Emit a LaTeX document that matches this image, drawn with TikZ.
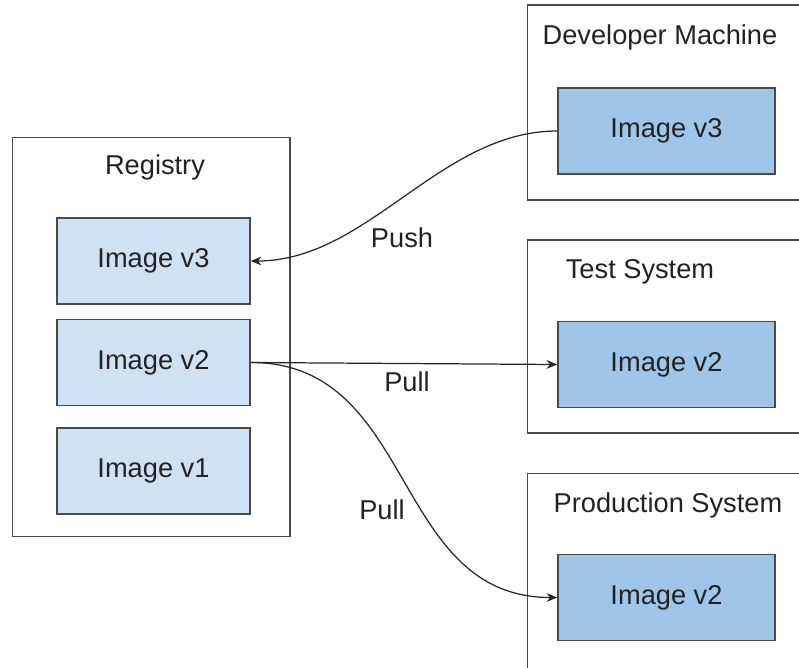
\documentclass[tikz,border=0pt]{standalone}
\usepackage{fontspec}
\setmainfont{Liberation Sans}
\usetikzlibrary{arrows.meta}

\definecolor{imgLight}{HTML}{CFE2F3}
\definecolor{imgDark}{HTML}{9FC5E8}
\definecolor{boxLine}{HTML}{4A4A4A}
\definecolor{txtCol}{HTML}{222222}

\tikzset{
    host/.style={draw=boxLine, line width=0.6pt, minimum width=#1, inner sep=0pt},
    regimg/.style={draw=boxLine, line width=1pt, fill=imgLight, minimum width=3.86cm, minimum height=1.72cm, text=txtCol},
    hostimg/.style={draw=boxLine, line width=1pt, fill=imgDark, minimum width=4.34cm, minimum height=1.72cm, text=txtCol},
    title/.style={text=txtCol},
    flow/.style={-{Stealth[length=6pt,width=5pt]}, line width=0.7pt, draw=black!85},
}

\begin{document}
\begin{tikzpicture}[x=0.02cm, y=-0.02cm, font=\fontsize{15.5}{18}\selectfont]

% Picture area (same size as the reference)
\useasboundingbox (0,0) rectangle (799,667);
\clip (0,0) rectangle (799,667);

% Registry with its images
\node[host=5.56cm, minimum height=8cm] (registry) at (151,337) {};
\node[title] (registryLabel) at (155,167) {Registry};
\node[regimg] (regV3) at (153.5,261) {Image v3};
\node[regimg] (regV2) at (153.5,362.5) {Image v2};
\node[regimg] (regV1) at (153.5,471) {Image v1};

% Machines on the right (cut off by the picture edge)
\node[host=5.66cm, minimum height=3.9cm] (devMachine) at (668.5,102.5) {};
\node[title] (devLabel) at (660,37) {Developer Machine};
\node[hostimg] (devV3) at (666.5,131) {Image v3};

\node[host=5.66cm, minimum height=3.86cm] (testSystem) at (668.5,336.5) {};
\node[title] (testLabel) at (640,272) {Test System};
\node[hostimg] (testV2) at (666.5,364.5) {Image v2};

\node[host=5.66cm, minimum height=4.14cm] (prodSystem) at (668.5,576.5) {};
\node[title] (prodLabel) at (668,505) {Production System};
\node[hostimg] (prodV2) at (666.5,597.5) {Image v2};

% Push and pull connectors
\draw[flow] (devV3.west) to[out=180, in=0, looseness=0.9] (regV3.east);
\node[text=txtCol] (pushLabel) at (402,238) {Push};
\draw[flow] (regV2.east) -- (testV2.west);
\node[text=txtCol] (pullLabelA) at (407,382) {Pull};
\draw[flow] (regV2.east) to[out=0, in=180, looseness=1.1] (prodV2.west);
\node[text=txtCol] (pullLabelB) at (382,510) {Pull};

\end{tikzpicture}
\end{document}
